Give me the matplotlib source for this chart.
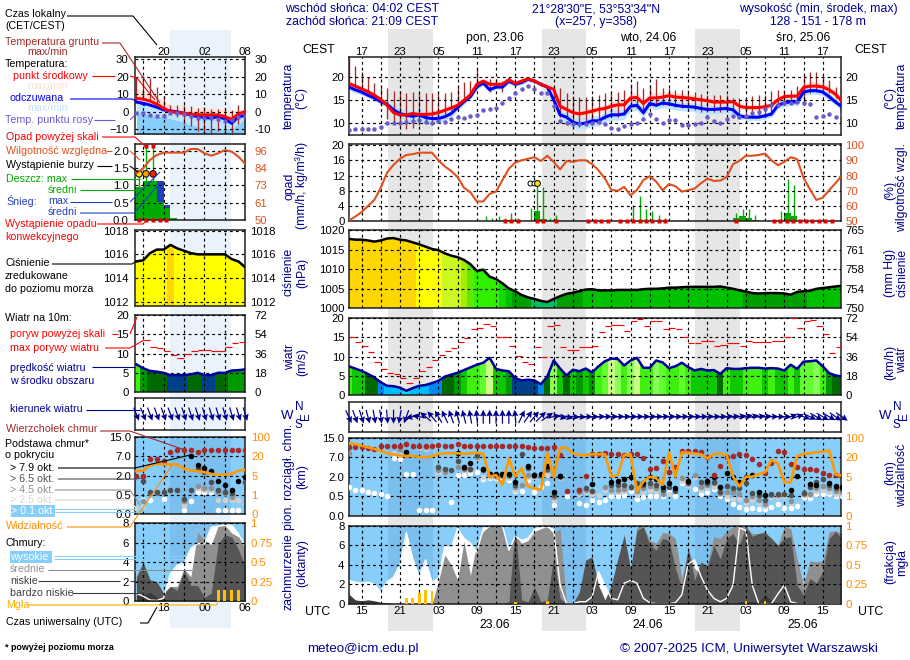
import numpy as np
import matplotlib
matplotlib.use('Agg')
import matplotlib.pyplot as plt
from matplotlib.colors import ListedColormap, BoundaryNorm
from matplotlib.patches import Polygon, Rectangle
from matplotlib.transforms import blended_transform_factory

plt.rcParams['font.family'] = ['Liberation Sans', 'DejaVu Sans']
W, H = 910, 660
FS = 8.8
FS_T = 8.2
FS_L = 7.7
NAVY = '#000090'
RHC = '#E0501E'
ORG = '#FF8C00'
BROWN = '#A52A2A'

# ---------- main panel data (hours since 22.06 13 UTC) ----------
hours = list(range(78))
temp_mid = [18.6,18,17.4,16.8,16,15.1,13.8,12.2,11.7,11.7,12,11.8,11.8,11.9,12.2,12.7,13.2,13.8,14.9,16.1,18.4,19.1,18.4,18.4,18.4,19.4,18.6,19.1,19.6,19.1,18.4,17.8,17.3,13.6,12.9,12.2,11.9,12.2,12.5,12.9,13.1,13.6,13.9,13.9,15.4,15.5,14.2,15.4,15.4,15.6,15.9,15.6,15.5,15.4,15.2,15,14.8,14.5,14.5,14.5,14.6,13.6,13.3,13.3,13.3,13.5,13.8,15,15.7,15.8,15.8,17.7,18,18,17.8,17.2,16.2,14.7]
temp_feels = [17.8,17.2,16.7,16,15.4,14.6,14,12.8,12,11.6,11.4,11.7,11.1,10.9,10.9,11.3,12,13.3,14.6,15.7,17.8,18.7,17.2,17.8,17.8,19.1,18.4,18.8,19.5,19.1,18.4,17.8,15,11.7,11.2,10.1,9.7,9.9,10.4,10.4,11.2,11.7,11.7,11.9,13.6,13.8,12.2,14.2,13.8,14.3,14.1,13.8,13.6,13.5,13.4,13.1,12.9,12.9,13,13.1,12.8,11.5,11.2,11.2,11.2,11.5,11.9,13.8,14.3,14.6,14.5,16.7,17,17,16.7,15.7,14.5,13.5]
temp_dew = [8.4,8.6,8.7,8.7,8.7,9.1,9.9,10,10,10.2,10.4,10.5,10.2,10,10.4,10.2,10.9,11.2,11.1,11.4,11.7,12.8,13,13.3,14.2,15.5,16.4,17.3,18,17.4,16.4,16.4,13.7,10.3,10,9.7,9.6,9.8,9.9,10.1,9.7,8.8,8.7,9.3,9.6,10,10.7,11.8,10.8,9.9,10.6,10.6,9.5,9.5,9.7,10,11.2,10.3,10,10.8,11.5,11.3,11.5,12.2,12.3,12.9,13.8,13.8,14.2,14.2,14.6,14.2,14,11.3,11.5,11.8,11.3,11.8]
temp_top = [24.3,22.5,21.1,19.9,18.6,18,17.5,17,17,16.4,16.6,16.4,16.4,16.4,16.6,16.5,16.6,18,18.8,19.2,22,19.4,19.6,19.6,19.2,19.9,19,19.6,19.9,19.4,18.8,18.3,17.9,17.5,16.5,15.8,15.7,15.7,15.8,16,16.4,16.7,16.7,17.1,18.5,19.1,17.5,18.2,19.6,17.5,17.5,17.2,17.2,17.1,16.7,16.2,16,16,16,16,15.5,15.5,15.5,15.8,16,16,17,17.2,17.1,17.1,18,20.4,21,21,20.1,19.3,17.7,16]
temp_bot = [18.3,17.8,17.2,16.5,15.6,13.6,10.9,9.9,9.1,8.55,8.8,9.5,9.9,10.4,11.3,12,12.8,13.6,14.6,15.8,18,18.2,16.7,17.7,16.7,18.6,18.2,18.6,19.3,18.6,18,17.7,15.7,11.3,10.7,9.5,9.1,9.5,9.9,10.2,10.9,11.3,11.3,11.7,13.5,13.3,12,13.6,13.6,13.8,13.8,13.5,13.3,13.1,12.8,12.4,12.4,12.4,12.4,12.4,12.4,11.3,11.2,11.2,11.2,11.5,11.7,13.5,14.2,14.2,14.2,14.6,16.4,16.8,16.8,16.4,15.3,13.5]
temp_spread = [.5,.5,.5,.5,.5,.5,.6,.7,.8,.8,.8,.8,.9,.9,.8,.7,.6,.5,.5,.5,.5,.4,.4,.4,.4,.4,.4,.4,.4,.4,.4,.4,.5,.7,.7,.7,.8,.8,.7,.7,.8,1,1,1,1,1.1,1,1.1,1.2,1.1,1,.9,.9,.8,.8,.8,.8,.8,.8,.8,.7,.6,.6,.6,.6,.6,.6,.7,.7,.7,.7,.8,1,1,1,.9,.8,.7]
feels_spread = [.6,.6,.6,.6,.6,.6,.7,.9,1.1,1.2,1.3,1.3,1.3,1.2,1.1,.9,.8,.7,.6,.6,.6,.5,.5,.5,.5,.5,.5,.5,.5,.5,.5,.5,.7,1,1.2,1.2,1.2,1.2,1.2,1.1,1.1,1.2,1.2,1.2,1.1,1.1,1.1,1,1,1,1,1,1,1,1,1,1,1,1,1,.9,.7,.7,.7,.7,.7,.7,.8,.8,.8,.8,.8,.8,.8,.8,.8,.8,.8]
rel_hum = [50.4,53,56,60,64,72,82,87,91,93.5,94,95,95,95,90,86,83,79,72,69,63,63,68,69.5,77,84.5,88.5,90,91,92,89.5,93,89,84,89.5,89,90,90,87.5,83.4,78,70.6,70,72.6,67,70.6,77,79.6,76,70.4,74.4,73,69.5,70.4,71.5,75,78,76.5,76.7,79,87.5,89.7,93,93,93.5,94.4,90,86.8,89,92,90.8,78.5,71,64,65.5,70.4,75,80]
rain_hours = [23.4,24.4,25.4,29.4,30.4,32.4,44.4,45.4,46.4,47.4,60.5,61.5,62.5,63.5,68.5,69.5]
rain_mean = [.2,.3,.3,2.6,.6,.3,.2,.2,.2,.2,.8,1.5,.8,.3,2.1,1.4]
rain_max_hours = [20.4,21.4,22.4,23.4,24.4,25.4,26.4,28.4,29.4,30.4,31.4,32.4,44.4,45.4,46.4,47.4,48.4,49.4,59.4,60.5,61.5,62.5,63.5,67.5,68.5,69.5]
rain_max = [.3,1.3,.8,1.3,.8,2.1,.8,3.5,9.3,8.9,.8,1.7,4.4,6.6,3.2,2.6,1.7,.8,.4,2.1,3.2,3.2,1.7,2.6,11,9.5]
conv_hours = [24.4,25.4,26.4,29.4,30.4,32.4,37.4,38.4,39.4,40.4,42.4,43.4,44.4,45.4,46.4,47.4,48.4,49.4,60.4,66.4,67.4,68.4,69.4,70.4,71.4,72.4,73.4,74.4,75.4]
storm_hours = [28.3,28.85,29.4]
storm_level = [10,10,10]
pressure = [1017.8,1017.6,1017.6,1017.4,1017.1,1017.4,1017.9,1018,1017.6,1017.4,1016.9,1016.4,1015.8,1015.2,1014.9,1014.1,1013.5,1013.1,1012.4,1011.3,1009.6,1009.9,1008.1,1007.5,1006.4,1005.1,1004.4,1003.4,1002.8,1002.4,1001.9,1001.6,1002.4,1003.1,1003.7,1004,1004.4,1004.8,1004.9,1004.6,1004.6,1004.6,1004.7,1004.7,1004.7,1004.7,1004.9,1005,1005,1005.1,1005.3,1005.3,1005.4,1005.5,1005.5,1005.5,1005.5,1005.5,1005.6,1005.3,1005,1004.6,1004.3,1003.9,1003.8,1003.9,1003.9,1003.9,1003.8,1003.5,1004.2,1004.4,1004.5,1005,1005.2,1005.4,1005.6,1005.8]
wind = [7.5,6.9,6.3,5.5,4.6,3.3,2.4,2.3,1.9,1.1,1.8,2.4,2.6,3.1,3.7,4.8,5.3,5.8,6.5,7.2,7.9,8.4,9.7,6.8,6.4,6.2,4.4,3.8,4,3.8,2.8,4.8,9,6.9,5.1,6.6,6.2,6.9,5.9,7.5,8.8,9.5,9.4,7.7,9,9.7,7.1,7.1,9,8.5,7,7.5,8.4,7.3,6.4,6.8,6.4,6.5,5.5,7,6.8,6.8,7,7.1,7.1,6.9,7,6.9,6.4,7.9,6.8,8.7,8.8,9,7.5,5.7,5.1,4.8]
gust = [15,13.9,12.9,11.1,8.6,6.9,5.7,5.4,4.4,3.1,4.4,6.3,7.3,9,10.3,11.5,12.3,13.7,14.8,17.1,17.4,18.5,18,15,15,12.9,10.2,8.7,8.2,12.6,10,17.9,18.2,12.6,11.8,11.8,12.6,12.6,12.8,16.3,17.9,18.2,18.2,16.8,19.2,19.7,17.9,19.4,19.4,17.1,17.4,17.1,15.2,13.5,13.5,14,14,12.9,13.1,13.5,13.5,12.9,14,13.7,13.7,13.7,14,14,15.2,20,17.6,19.2,19.5,18.1,15.8,11,12.6]
wind_dir = [335,340,342,345,350,352,355,360,10,20,80,100,130,140,150,155,160,165,165,170,175,180,180,180,180,180,175,205,215,220,225,235,260,285,285,275,275,270,270,268,268,268,268,268,268,268,268,268,268,268,268,268,268,268,268,268,268,268,268,265,265,260,255,258,262,265,268,270,270,250,250,290,295,300,300,300,305,305]

top_hours = [0,1,2,3,4,5,6,7,8,9,10,11,12,13,14,15,16,17,18,19,20,21,22,23,24,25,26,27,28,29,30,31,32,33,34,36,37,38,39,40,41,42,43,44,45,46,47,48,49,50,51,52,53,54,55,56,57,58,59,60,61,62,63,64,65,66,67,68,69,70,71,72,73,74,75,76,77]
top_km = [11,11,11.3,10.9,10.4,11.7,11.7,11.7,11.7,12.4,11.7,11.7,11.6,11.7,12,11.7,11.7,12.3,11.7,11.7,11.7,11.7,11.7,11.7,11.7,11.7,11.7,11.7,11,10.7,10.7,10.9,11,7.9,.9,1,2.2,8.2,8.2,8.6,8.2,8.2,7.9,8.2,8.2,6.9,4.1,4.3,6,3.3,4.6,9.7,9.7,9.7,9.2,7,2.4,4.8,7,7.5,8.2,7.9,6.5,5.2,3,5.4,9.7,9.2,5.2,4.4,4.1,4.1,3.7,3,2.4,2.4,2.4]
b79_hours = [9,17,18,19,21,22,23,24,25,26,28,29,30,31,32,33,38,41,42,43,44,46,47,48,49,50,51,53,56,57,58,59,60,61,62,63,64,65,69,70,72,73,75,76,77]
b79_km = [9.3,8.6,4.6,5.6,3.9,2.8,2.8,2.8,2.6,1.6,4.7,2.5,2.6,4.8,.85,2.3,1.45,1.6,1.7,1.8,2,1.5,2,1.85,1.2,1.5,1.1,1.65,1.7,2,1.2,3,2,1.6,2,2.4,.85,.6,.95,2.3,1.45,1.4,1.5,1.3,1.2]
b65_hours = [14,15,16,17,18,19,20,21,22,23,24,25,26,27,28,29,30,31,32,33,36,37,38,41,42,43,44,45,46,47,48,49,50,51,53,55,56,57,58,59,60,61,62,63,64,65,66,67,68,69,71,72,73,74,75,76,77]
b65_km = [4.6,4.1,3.7,6,4.3,4.1,8,3.7,2.6,2.4,2.4,2.4,1.35,8.2,4.3,2.4,2.4,4.1,.6,2.2,1,1.1,.9,1.4,1.4,1.35,1.2,1.5,1.4,1.55,1.35,1,1.2,.93,1.53,1.62,1.55,1.62,.85,1.27,1.1,1.1,1.5,.72,.6,.4,.65,.65,.65,.6,.72,1.2,1.6,1.8,1.35,1.15,1.05]
b45_hours = [0,8,9,11,12,13,14,15,17,18,19,20,22,23,24,25,26,27,28,29,30,31,32,33,36,37,38,40,41,42,43,44,45,46,47,48,49,52,53,54,55,56,57,58,59,60,61,62,63,64,65,66,67,68,69,71,72,73,74,75,76,77]
b45_km = [8.6,10.4,7.7,11.4,11,11.8,3.7,3.3,4.6,4.1,4,7,2.4,2.3,2.3,2.3,1.2,1.4,2.4,2.3,2.3,3.7,.47,2,.85,1,.9,1.2,1,1,1.05,1.2,.9,1.1,1.3,1.15,.7,1.9,1.5,2.4,1.2,1.35,1.5,.75,.85,.85,.7,.4,.55,.4,.3,.6,.6,.67,.38,.7,.7,1.1,1.3,1.1,.9,.85]
b25_hours = [7,8,11,12,13,14,18,19,20,21,22,23,25,26,27,28,29,31,32,33,36,37,38,39,40,41,42,43,44,45,46,47,48,49,50,52,53,54,55,56,57,58,59,60,61,62,63,64,65,66,67,68,69,71,72,73,74,75,76,77]
b25_km = [8.6,7.9,10.7,10.4,11.8,3.3,3.7,3.7,6.8,2,2,2,1.9,1,1.35,2,2,2.4,.4,1.9,.7,.8,.7,.6,1,.85,.85,.9,1.1,.6,.85,1,.9,.65,.7,1.7,1.35,2,1,1.1,1.2,.7,.55,.43,.43,.32,.4,.32,.26,.47,.47,.5,.32,.6,.6,.9,1,.85,.7,.65]
b01_hours = [0,1,2,3,4,5,6,7,8,9,10,11,12,13,14,15,16,17,18,19,20,21,22,23,24,25,26,27,28,29,30,31,32,33,34,36,37,38,39,40,41,42,43,44,45,46,47,48,49,50,51,52,54,55,56,57,58,59,60,61,62,63,64,65,66,67,68,69,70,71,72,73,74,75,76,77]
b01_km = [1.2,1,1,.8,.75,.65,.55,6.8,6.6,2.8,2.6,.14,.14,.15,3.3,3.3,.35,2.4,2.4,3,3.3,1.8,1.9,1.9,2,1.75,.9,.9,1.75,.85,1.2,1.5,.28,2,.5,.33,.28,.4,.35,.4,.5,.55,.6,.9,.43,.47,.55,.55,.5,.85,.5,1.5,1.05,.7,.85,1.05,.5,.43,.29,.23,.17,.19,.17,.17,.23,.29,.19,.2,.26,.47,.45,.7,.7,.65,.55,.5]
visibility = [77,74,67,61,54,46,36,32,27,25,25,21,20,23,34,36,36,36,34,36,38,34,5,6.3,3.3,19,5,11.5,3,2.6,2.3,36,5,59,59,36,29,29,32,32,32,5,6.3,29,32,1.95,4,5,4.7,3.3,40,5,40,38,35,32,19,32,35,29,5,3,5,5,7,8.4,18,15,3.85,3.85,23,34,36,40,43,47,6.8,5.8]
cl_high = [2.4,2.2,2.1,2.2,2,1.2,2.25,2.7,4,7.3,4.6,2.8,4.5,2.2,2.6,5.9,5.7,7.7,6.7,6.2,5.3,7.7,8,8,8,5.5,6.9,6.5,6.7,7.6,7.9,7.9,7.6,1.9,0,0,.2,.2,.7,3.3,1.9,.55,.4,2.1,2.4,2.1,.55,.1,0,0,0,.1,.9,4.1,4.5,2.8,1.4,.55,.2,.55,1.9,7.8,7.5,1.9,0,0,0,1,1.9,.2,0,0,0,0,0,0,0,0]
cl_mid = [0,0,0,0,0,0,0,0,0,0,0,0,0,0,2.25,5,4,2.4,6.4,2.9,6.2,7.4,8,8,8,5.5,7,6.2,6.5,7.4,7.7,7.9,7.2,7.7,0,0,.9,4,4.8,1,.2,.3,3.3,7.2,3.3,7.9,8,6.5,6.2,7.3,7.2,6.7,2.6,5.7,3.6,3.1,4.1,6.9,6.7,7.4,7.9,8,7.9,7.2,7.2,7.4,6.4,6,7.9,7.7,4.6,1.9,4.4,4.3,4.4,7.4,7.5,7.2]
cl_low = [0,0,0,0,0,0,0,0,0,0,0,0,0,0,0,0,0,0,0,0,0,0,0,0,0,.2,7.9,.4,.2,1.7,.2,.4,4.8,.55,0,0,1.2,4.5,4.8,1.9,.4,1.9,4.6,7,3.6,7.5,7.9,6,5.5,6.7,6.5,3.6,1.6,5.7,2.4,4.3,3.8,6,4.6,6.7,7.2,6,7.9,6.9,7.2,7.3,6.7,6,6.7,6.9,1.9,.9,2.6,2.1,3.3,6.7,7.4,6.7]
cl_vlow = [1,.4,.3,.4,.3,.15,.1,0,0,0,0,0,0,0,0,0,0,0,0,0,0,0,0,0,0,0,0,0,0,0,0,0,0,0,0,0,0,0,0,0,0,0,0,0,0,0,0,0,0,0,0,0,0,0,0,0,0,0,0,0,0,.2,.3,.2,.2,.9,.3,0,0,0,0,0,0,0,0,0,0,0]
fog_hours = [9,10,11,12,13,26,31,62,65]
fog_frac = [.07,.07,.14,.18,.16,.02,.04,.03,.03]
night_start = [6.13,30.13,54.13]
night_end = [13.1,37.1,61.1]
cest_labels = ['17','23','05','11','17','23','05','11','17','23','05','11','17']
utc_labels = ['15','21','03','09','15','21','03','09','15','21','03','09','15']

# ---------- small (analysis) panel data, hours UTC from 22.06 00 ----------
s_hours = list(range(14,31))
s_temp = [7.5,7.1,6,4.2,1.9,0,-.6,-1,-1.5,-1.9,-1.9,-1.9,-1.9,-2.9,-4.4,-1.3,0]
s_feels = [5.4,4.8,3.7,2.5,1,.4,-.2,-1,-1.9,-2.9,-3.3,-3.8,-2.9,-4.2,-6.7,-2.9,-2.3]
s_temp_hi = [13.5,12,10,8.5,5.8,4,3,2.5,2,2,2,2,2,1,.5,1,1]
s_feels_lo = [-.3,-1,-2,-2.7,-3,-4,-5,-6,-7.7,-8.5,-9.5,-9.6,-9.6,-9.6,-9.6,-7,-3.8]
s_dew = [-1,-1,-1.9,-2.5,-2.5,-.6,-1,-1.3,-2.5,-3.5,-3.8,-3.8,-4.4,-5.2,-4.8,-2.9,-2.5]
s_top = [20,20.5,19,13.8,9,4,4,3.5,3,2,2.5,1.5,1.5,2,1,3.5,3]
s_bot = [6,7,5.5,3,1,-1,-3,-7,-8,-11,-12,-12,-11,-12,-12.5,-7,-2]
s_rh = [81,84.3,89.8,93.1,94.7,94.7,94.7,94.7,97.1,97.1,94.2,92.7,94.2,96.4,95.3,92,87.2]
s_rain_hours = [13.5,14.5,15.5,16.5,17.5,18.5,19.5]
s_rain = [.95,.95,1.12,1.12,.52,.36,.05]
s_snow_top = [0,0,0,0,1.11,.44,0]
s_rmax_hours = [14.4,15.4,16.45]
s_rmax = [1.33,2.19,2.19]
s_storm = [1.33,1.33,1.33]
s_over_hours = [15.4,16.45]
s_over = [2.13,2.13]
s_conv_hours = [14.4,15.4,16.45,17.4,18.4]
s_pressure = [1015.4,1015.5,1016.1,1016.4,1016.4,1016.8,1016.5,1016.3,1016.1,1016,1016,1016,1016,1016,1015.6,1015.4,1014.9]
s_wind = [7.2,6.2,5.5,5.3,5,4.4,4.4,4.4,4.6,5,4.4,4.4,5,5,5.6,5.7,5.9]
s_gust = [21,13.6,11.7,11.4,10.6,9.6,8.9,9.8,10.6,10.9,10.9,10.6,10.6,11.7,12.7,13]
s_dir = [338,338,339,340,340,340,341,342,342,342,343,343,343,343,343,343,343]
s_top_km = [2,2,6.4,6.2,5.9,8.7,9.7,9.7,9.7,8.7,9.7,9.7,9.7,9.7,9.7,9.7,9.7]
s79_hours = [22,23,24,25,26,27,28,29,30]
s79_km = [7,4.8,3.9,3.1,1.55,1.25,.9,1.55,1.9]
s65_hours = [15,16,17,18,19,20,21,22,23,24,25,26,27,28,30]
s65_km = [1.55,.7,.7,.7,.9,.9,.4,.9,3.7,2.9,1.5,.9,.7,.6,1.5]
s45_hours = [15,16,17,18,19,20,21,22,23,24,25,26,27,28]
s45_km = [.35,.6,.6,.7,.85,.85,.33,.9,1.15,1,1.05,.7,.6,.45]
s25_hours = [14,15,19,20,21,22,23,24,25,26,27,28,29]
s25_km = [.15,.2,.9,.9,.24,.85,1,.85,.9,.36,.36,.36,.36]
s01_hours = [15,16,18,21,22,23,24,25,26,27,28,29]
s01_km = [.36,.36,.38,.1,.33,.7,.7,.7,.1,.1,.1,.1]
s_vis = [8.4,8.9,12.9,14.2,13.7,13.7,13.7,10.3,8.9,8.4,7.6,6.3,5.5,5.8,6.3,8.9,9.5]
s_high = [.8,.5,.1,.05,.3,2.8,3.7,3.9,5.4,5.9,5.9,7.6,7.7,7.8,7.8,6.9,5.6]
s_mid = [0,0,0,0,.8,1.5,1.5,3.3,2.5,7.1,6.3,5.8,7.7,7.8,7,6.6,5.8]
s_low = [2.5,4,2.2,2,.8,1.5,1.1,3.2,1.6,1.6,.4,.8,5.9,6.8,6.6,5.3,3.5]
s_vlow = [.6,.6,.9,.4,.1,0,0,0,0,0,0,0,0,0,0,0,0]
s_fog_hours = [26,27,28,29]
s_fog = [.14,.14,.14,.14]
s_night = [19.0,27.9]

# ---------- scales ----------
km_scale = [0,.5,2,7,15]
vis_scale = [0,1,5,20,100]
def km_lev(v): return np.interp(v, km_scale, [0,1,2,3,4])
def vis_lev(v): return np.interp(v, vis_scale, [0,1,2,3,4])

p_bounds = [1000,1002.5,1004.5,1006,1007.5,1009,1010.5,1011.7,1012.7,1014.4,1016.6,1021]
p_cmap = ListedColormap(['#00C060','#009E00','#00C000','#10D800','#30F000','#30F000','#60E800','#A0F000','#CCFA20','#FFFF00','#FFD700'])
p_norm = BoundaryNorm(p_bounds, p_cmap.N)
w_bounds = [0,1.5,2.8,3.8,4.5,5.6,6.3,7,8,9,9.5,25]
w_cmap = ListedColormap(['#00DDFF','#00BBFF','#0088F0','#00408A','#006A00','#009900','#10C800','#40F010','#60FF30','#88FF55','#CCFF88'])
w_norm = BoundaryNorm(w_bounds, w_cmap.N)

fig = plt.figure(figsize=(W/100, H/100), dpi=100, facecolor='white')

def px_axes(l, t, r, b):
    a = fig.add_axes([l/W, 1-b/H, (r-l)/W, (b-t)/H], facecolor='none')
    for s in a.spines.values():
        s.set_linewidth(1.1); s.set_color('#202020')
    return a

grid_kw = dict(color='black', lw=0.85, linestyle=(0,(2.4,2.6)))

def setup(a, xlim, major, minor, yticks, ylim, ylabels=None, rpad=3, lpad=3):
    a.set_xlim(*xlim); a.set_ylim(*ylim)
    a.set_xticks(major); a.set_xticks(minor, minor=True)
    a.set_yticks(yticks)
    if ylabels is not None:
        a.set_yticklabels(ylabels)
    a.set_xticklabels([])
    a.tick_params(which='both', length=0, labelsize=FS_T, pad=lpad, colors='black')
    a.grid(True, which='both', axis='x', **grid_kw)
    a.grid(True, which='major', axis='y', **grid_kw)
    a.set_axisbelow(False)

def right(a, ticks, labels, ylim=None, color='black', pad=3):
    r = a.twinx()
    r.set_ylim(*(ylim if ylim else a.get_ylim()))
    r.set_yticks(ticks); r.set_yticklabels(labels)
    r.tick_params(length=0, labelsize=FS_T, pad=pad, colors=color)
    for s in r.spines.values():
        s.set_visible(False)
    return r

def colored_area(a, x, y, ybase, cmap, norm, ytop):
    x = np.asarray(x, float); y = np.asarray(y, float)
    edges = np.append(x-.5, x[-1]+.5)
    mesh = a.pcolormesh(edges, [ybase, ytop], y[None, :], cmap=cmap, norm=norm, zorder=1, linewidth=0)
    poly = Polygon(np.column_stack([np.r_[x[0], x, x[-1]], np.r_[ybase, y, ybase]]), closed=True,
                   facecolor='none', edgecolor='none', transform=a.transData)
    a.add_patch(poly)
    mesh.set_clip_path(poly)

def arrows(a, x, d, ln):
    d = np.radians(np.asarray(d, float))
    a.quiver(x, np.full(len(x), .5), -ln*np.sin(d), -ln*np.cos(d), units='dots', scale_units='dots',
             scale=1, angles='uv', pivot='mid', width=1.2, headwidth=5.5, headlength=5.5, headaxislength=4.8,
             color='#00008B', zorder=3, clip_on=False)

def cloud_dots(a, hh, km, col, ms=4.0):
    a.plot(hh, km_lev(km), ls='none', marker='o', ms=ms, mfc=col, mec=col, mew=0, zorder=3, clip_on=True)

# ====== main panels ======
XM = (0, 76.85); M6 = list(range(2, 77, 6)); M3 = list(range(5, 77, 6))
MX = 348.7; MR = 841
a_t = px_axes(MX, 57.3, MR, 135)
a_p = px_axes(MX, 144.3, MR, 221.3)
a_c = px_axes(MX, 230.3, MR, 308.3)
a_w = px_axes(MX, 318.3, MR, 395)
a_d = px_axes(MX, 401.7, MR, 431.7)
a_b = px_axes(MX, 437.7, MR, 515.7)
a_k = px_axes(MX, 525.7, MR, 603.7)

tr = blended_transform_factory(a_t.transData, fig.transFigure)
for s, e in zip(night_start, night_end):
    fig.add_artist(Rectangle((s, 1-630.7/H), e-s, (630.7-28.7)/H, transform=tr, facecolor='#E6E6E6', edgecolor='none', zorder=-5))

setup(a_t, XM, M6, M3, [10,15,20], (7.3,24.3))
a_t.fill_between(hours, np.array(temp_mid)-temp_spread, np.array(temp_mid)+temp_spread, color='#FFDEDC', lw=0, zorder=1)
a_t.fill_between(hours, np.array(temp_feels)-feels_spread, np.array(temp_feels)+feels_spread, color='#BDE5FF', lw=0, zorder=1.1)
a_t.vlines(hours, temp_bot, temp_top, color=BROWN, lw=0.95, zorder=2)
a_t.plot(hours, temp_feels, color='#0000FF', lw=2.2, zorder=3)
a_t.plot(hours, temp_mid, color='#FF0000', lw=2.2, zorder=3.1)
a_t.plot(hours, temp_dew, ls='none', marker='o', ms=3.2, mfc='#6A5ACD', mec='none', zorder=3.2)
right(a_t, [10,15,20], ['10','15','20'])
a_t.xaxis.set_ticks_position('top')
a_t.set_xticks(M6); a_t.set_xticklabels(cest_labels)
a_t.tick_params(axis='x', which='major', pad=0.5, labelsize=FS_T, top=True, length=0)

setup(a_p, XM, M6, M3, [0,4,8,12,16,20], (0,20.2))
a_p.bar(rain_hours, rain_mean, width=1, color='#00AA00', zorder=1.5)
a_p.vlines(rain_max_hours, 0, rain_max, color='#00B000', lw=1, zorder=1.6)
a_p.plot(conv_hours, np.zeros(len(conv_hours))+.08, ls='none', marker='s', ms=2.3, mfc='#E00000', mec='none', zorder=3, clip_on=False)
a_p.plot(storm_hours[:2], storm_level[:2], ls='none', marker='o', ms=3.6, mfc='white', mec='black', mew=.7, zorder=4)
a_p.plot(storm_hours[2:], storm_level[2:], ls='none', marker='o', ms=4.2, mfc='#FFE000', mec='black', mew=.7, zorder=4)
r_p = right(a_p, [50,60,70,80,90,100], ['50','60','70','80','90','100'], ylim=(50,100.5), color=RHC)
r_p.plot(hours, rel_hum, color=RHC, lw=1.5, zorder=3)

setup(a_c, XM, M6, M3, [1000,1005,1010,1015,1020], (1000,1020))
colored_area(a_c, hours, pressure, 1000, p_cmap, p_norm, 1020)
a_c.plot(hours, pressure, color='black', lw=1.8, zorder=3)
right(a_c, [1000,1005,1010,1015,1020], ['750','754','758','761','765'])

setup(a_w, XM, M6, M3, [0,5,10,15,20], (0,20))
colored_area(a_w, hours, wind, 0, w_cmap, w_norm, 20)
a_w.plot(hours, wind, color='#00009B', lw=1.8, zorder=3)
g_h = np.array(hours[:len(gust)], float)
a_w.hlines(gust, g_h+.02, g_h+.98, color='#FF0000', lw=.85, zorder=3)
right(a_w, [0,5,10,15,20], ['0','18','36','54','72'])

setup(a_d, XM, M6, M3, [], (0,1))
arrows(a_d, hours, wind_dir, 14)

setup(a_b, XM, M6, M3, [0,1,2,3,4], (0,4), ['0.0','0.5','2.0','7.0','15.0'])
a_b.set_facecolor('#87CEFA')
for s, e in zip(night_start, night_end):
    a_b.axvspan(s, e, color='#3060A0', alpha=.13, lw=0, zorder=.5)
cloud_dots(a_b, b01_hours, b01_km, 'white')
cloud_dots(a_b, b25_hours, b25_km, '#D0D0D0')
cloud_dots(a_b, b45_hours, b45_km, '#909090')
cloud_dots(a_b, b65_hours, b65_km, '#505050')
cloud_dots(a_b, b79_hours, b79_km, 'black')
cloud_dots(a_b, top_hours, top_km, BROWN)
a_b.plot(hours, vis_lev(visibility), color='#FF9900', lw=1.9, zorder=3.5)
right(a_b, [0,1,2,3,4], ['0','1','5','20','100'], color=ORG)

setup(a_k, XM, M6, M3, [0,2,4,6,8], (0,8))
a_k.set_facecolor('#87CEFA')
for s, e in zip(night_start, night_end):
    a_k.axvspan(s, e, color='#3060A0', alpha=.13, lw=0, zorder=.5)
a_k.fill_between(hours, 0, cl_high, color='white', lw=0, zorder=1)
a_k.fill_between(hours, 0, cl_mid, color='#909090', lw=0, zorder=1.1)
a_k.fill_between(hours, 0, cl_low, color='#555555', lw=0, zorder=1.2)
a_k.fill_between(hours, 0, cl_vlow, color='#3A3A3A', lw=0, zorder=1.3)
a_k.plot(hours, cl_high, color='white', lw=1, zorder=1.5)
a_k.set_xticks(M6); a_k.set_xticklabels(utc_labels)
a_k.tick_params(axis='x', which='major', pad=1.5, labelsize=FS_T, length=0)
r_k = right(a_k, [0,.25,.5,.75,1], ['0','0.25','0.5','0.75','1'], ylim=(0,1), color=ORG)
r_k.bar(fog_hours, fog_frac, width=.42, color='#FFC000', zorder=3)

# ====== small panels ======
XS = (13.8, 30.0); S6 = [18,24,30]; S3 = [15,21,27]
SL, SR = 135, 245.3
b_t = px_axes(SL, 57.3, SR, 134.3)
b_p = px_axes(SL, 144, SR, 220)
b_c = px_axes(SL, 230, SR, 306)
b_w = px_axes(SL, 315.3, SR, 392)
b_d = px_axes(SL, 398.3, SR, 430)
b_b = px_axes(SL, 436.7, SR, 514)
b_k = px_axes(SL, 523.3, SR, 601)

tr2 = blended_transform_factory(b_t.transData, fig.transFigure)
fig.add_artist(Rectangle((s_night[0], 1-628/H), s_night[1]-s_night[0], (628-30)/H, transform=tr2, facecolor='#EAF2FC', edgecolor='none', zorder=-5))

setup(b_t, XS, S6, S3, [-10,0,10,20,30], (-13,31), lpad=4.5)
b_t.fill_between(s_hours, s_temp, s_temp_hi, color='#FFE4DC', lw=0, zorder=1)
b_t.fill_between(s_hours, -13, s_feels_lo, color='#87CEFA', lw=0, zorder=1)
b_t.fill_between(s_hours, s_feels_lo, s_feels, color='#BDE5FF', lw=0, zorder=1)
b_t.vlines(s_hours, s_bot, s_top, color=BROWN, lw=.95, zorder=2)
b_t.plot(s_hours, s_feels, color='#0000FF', lw=2.2, zorder=3)
b_t.plot(s_hours, s_temp, color='#FF0000', lw=2.2, zorder=3.1)
b_t.plot(s_hours, s_dew, ls='none', marker='s', ms=2.6, mfc='#6A5ACD', mec='none', zorder=3.2)
right(b_t, [-10,0,10,20,30], ['-10','0','10','20','30'], pad=6.5)
b_t.xaxis.set_ticks_position('top')
b_t.set_xticks(S6); b_t.set_xticklabels(['20','02','08'])
b_t.tick_params(axis='x', which='major', pad=0.5, labelsize=FS_T, length=0)

setup(b_p, XS, S6, S3, [0,.5,1,1.5,2], (0,2.19), ['0.0','0.5','1.0','1.5','2.0'], lpad=4.5)
b_p.bar(s_rain_hours, s_snow_top, width=1, color='#2040C0', zorder=1.4)
b_p.bar(s_rain_hours, s_rain, width=1, color='#00AA00', zorder=1.5)
b_p.vlines(s_rmax_hours, 0, s_rmax, color='#00B000', lw=1, zorder=1.6)
b_p.scatter(s_rmax_hours, s_storm, s=22, c=['#FFE000','#FFA000','#FF2000'], edgecolors='black', linewidths=.7, zorder=4)
b_p.plot(s_over_hours, s_over, ls='none', marker='s', ms=2.6, mfc='#E00000', mec='none', zorder=4, clip_on=False)
b_p.plot(s_conv_hours, np.zeros(len(s_conv_hours))+.01, ls='none', marker='s', ms=2.3, mfc='#E00000', mec='none', zorder=3, clip_on=False)
r_bp = right(b_p, [50,61.5,73,84.5,96], ['50','61','73','84','96'], ylim=(50,100.4), color=RHC, pad=6.5)
r_bp.plot(s_hours, s_rh, color=RHC, lw=1.5, zorder=3)

setup(b_c, XS, S6, S3, [1012,1014,1016,1018], (1011.65,1018.05), lpad=4.5)
colored_area(b_c, s_hours, s_pressure, 1011.65, p_cmap, p_norm, 1018.05)
b_c.plot(s_hours, s_pressure, color='black', lw=1.8, zorder=3)
right(b_c, [1012,1014,1016,1018], ['1012','1014','1016','1018'], pad=3.5)

setup(b_w, XS, S6, S3, [0,5,10,15,20], (0,20), lpad=4.5)
colored_area(b_w, s_hours, s_wind, 0, w_cmap, w_norm, 20)
b_w.plot(s_hours, s_wind, color='#00009B', lw=1.8, zorder=3)
sg = np.array(s_hours[:len(s_gust)], float)
b_w.hlines(s_gust, sg+.02, sg+.98, color='#FF0000', lw=.85, zorder=3)
right(b_w, [0,5,10,15,20], ['0','18','36','54','72'], pad=6.5)

setup(b_d, XS, S6, S3, [], (0,1))
arrows(b_d, s_hours, s_dir, 14)

setup(b_b, XS, S6, S3, [0,1,2,3,4], (0,4.02), ['0.0','0.5','2.0','7.0','15.0'], lpad=2.5)
b_b.set_facecolor('#87CEFA')
b_b.axvspan(s_night[0], s_night[1], color='#3060A0', alpha=.13, lw=0, zorder=.5)
cloud_dots(b_b, s01_hours, s01_km, 'white')
cloud_dots(b_b, s25_hours, s25_km, '#D0D0D0')
cloud_dots(b_b, s45_hours, s45_km, '#909090')
cloud_dots(b_b, s65_hours, s65_km, '#505050')
cloud_dots(b_b, s79_hours, s79_km, 'black')
cloud_dots(b_b, s_hours, s_top_km, BROWN)
b_b.plot(s_hours, vis_lev(s_vis), color='#FF9900', lw=1.9, zorder=3.5)
right(b_b, [0,1,2,3,4], ['0','1','5','20','100'], ylim=(0,4.02), color=ORG, pad=4.5)

setup(b_k, XS, S6, S3, [0,2,4,6,8], (0,8), lpad=4.5)
b_k.set_facecolor('#87CEFA')
b_k.axvspan(s_night[0], s_night[1], color='#3060A0', alpha=.13, lw=0, zorder=.5)
b_k.fill_between(s_hours, 0, s_high, color='white', lw=0, zorder=1)
b_k.fill_between(s_hours, 0, s_mid, color='#909090', lw=0, zorder=1.1)
b_k.fill_between(s_hours, 0, s_low, color='#555555', lw=0, zorder=1.2)
b_k.fill_between(s_hours, 0, s_vlow, color='#3A3A3A', lw=0, zorder=1.3)
b_k.plot(s_hours, s_high, color='white', lw=1, zorder=1.5)
b_k.set_xticks(S6); b_k.set_xticklabels(['18','00','06'])
b_k.tick_params(axis='x', which='major', pad=1.5, labelsize=FS_T, length=0)
r_bk = right(b_k, [0,.25,.5,.75,1], ['0','0.25','0.5','0.75','1'], ylim=(0,1), color=ORG, pad=3.5)
r_bk.bar(s_fog_hours, s_fog, width=.45, color='#FFC000', zorder=3)

# ====== overlay for text and leader lines (pixel coordinates) ======
ov = fig.add_axes([0,0,1,1], facecolor='none', zorder=20)
ov.set_xlim(0,W); ov.set_ylim(H,0); ov.axis('off')

def T(x, y, s, c='black', ha='left', rot=0, fs=FS, **k):
    ov.text(x, y, s, color=c, ha=ha, va='center', rotation=rot, fontsize=fs, **k)
def L(pts, c='black', lw=.8):
    xs, ys = zip(*pts)
    ov.plot(xs, ys, color=c, lw=lw, solid_capstyle='butt')

# header
T(362,9,'wschód słońca: 04:02 CEST',NAVY,'center')
T(362,22,'zachód słońca: 21:09 CEST',NAVY,'center')
T(596,9,'21°28\'30"E, 53°53\'34"N',NAVY,'center')
T(596,22,'(x=257, y=358)',NAVY,'center')
T(818,9,'wysokość (min, środek, max)',NAVY,'center')
T(818,22,'128 - 151 - 178 m',NAVY,'center')
for x, s in zip([495,648,803], ['pon, 23.06','wto, 24.06','śro, 25.06']):
    T(x,38,s,'black','center')
for x, s in zip([495,648,803], ['23.06','24.06','25.06']):
    T(x,625,s,'black','center')
T(319,50,'CEST','black','center'); T(871,50,'CEST','black','center')
T(318,612,'UTC','black','center'); T(871,612,'UTC','black','center')

# axis titles
for x,y,s in [(289,96,'temperatura'),(301,98,'(°C)'),(290,186,'opad'),(302,185,'(mm/h, kg/m³/h)'),
              (289,272,'ciśnienie'),(302,273,'(hPa)'),(290,357,'wiatr'),(302,362,'(m/s)'),
              (289,477,'pion. rozciągł. chm.'),(302,477,'(km)'),(289,572,'zachmurzenie'),(302,563,'(oktanty)'),
              (890,98,'(°C)'),(902,96,'temperatura'),(890,190,'(%)'),(902,187,'wilgotność wzgl.'),
              (890,273,'(mm Hg)'),(902,273,'ciśnienie'),(890,362,'(km/h)'),(902,360,'wiatr'),
              (890,473,'(km)'),(902,475,'widzialność'),(890,562,'(frakcja)'),(902,563,'mgła')]:
    ov.text(x,y,s,color=NAVY,rotation=90,ha='center',va='center',fontsize=FS)
for wx in (287, 885):
    T(wx,416,'W',NAVY,'center',fs=9.5)
    T(wx+12,406.5,'N',NAVY,'center',fs=8.5)
    T(wx+11,424.5,'S',NAVY,'center',fs=8.5)
    ov.text(wx+18.5,416,'E',color=NAVY,rotation=90,ha='center',va='center',fontsize=8.5)

# footer
T(363,649,'meteo@icm.edu.pl',NAVY,'center',fs=9.6)
T(749,649,'© 2007-2025 ICM, Uniwersytet Warszawski',NAVY,'center',fs=9.6)
T(5,648,'* powyżej poziomu morza','black',fs=6.4,fontweight='bold')

# legend texts
PINK='#FFE0D8'; LBL='#BDE5FF'; SL_C='#6A5ACD'; GR='#00AA00'; BL='#2040C0'
for x,y,s,c in [
 (5,14,'Czas lokalny','black'),(5,26,'(CET/CEST)','black'),
 (5,42,'Temperatura gruntu',BROWN),(27,52,'max/min',BROWN),
 (5,64,'Temperatura:','black'),(13,76,'punkt środkowy','#FF0000'),(27,86,'max/min',PINK),
 (10,98,'odczuwana','#0000FF'),(27,108,'max/min',LBL),(5,120,'Temp. punktu rosy',SL_C),
 (6,137,'Opad powyżej skali','#FF0000'),(6,151,'Wilgotność względna',RHC),(6,165,'Wystąpienie burzy','black'),
 (6,179,'Deszcz: max',GR),(48,190,'średni',GR),(6,201,'Śnieg:',BL),(48,201,'max',BL),(48,212,'średni',BL),
 (5,224,'Wystąpienie opadu','#FF0000'),(5,237,'konwekcyjnego','#FF0000'),
 (5,263,'Ciśnienie','black'),(5,276,'zredukowane','black'),(5,289,'do poziomu morza','black'),
 (5,318,'Wiatr na 10m:','black'),(10,334,'poryw powyżej skali','#FF0000'),(10,348,'max porywy wiatru','#FF0000'),
 (10,368,'prędkość wiatru',NAVY),(10,381,'w środku obszaru',NAVY),(10,409,'kierunek wiatru',NAVY),
 (6,429,'Wierzchołek chmur',BROWN),(5,444,'Podstawa chmur*','black'),(5,455,'o pokryciu','black'),
 (10,468,'> 7.9 okt.','black'),(10,479,'> 6.5 okt.','#505050'),(10,490,'> 4.5 okt.','#909090'),(10,500,'> 2.5 okt.','#D8D8D0'),
 (6,526,'Widzialność',ORG),(6,543,'Chmury:','black'),(10,569,'średnie','#909090'),(10,581,'niskie','#404040'),
 (10,593,'bardzo niskie','#404040'),(6,605,'Mgła','#FFB000'),(6,622,'Czas uniwersalny (UTC)','black')]:
    T(x,y,s,c,fs=FS_L)
ov.add_patch(Rectangle((11,505),44,12,facecolor='#87CEFA',edgecolor='none'))
T(11,511,'> 0.1 okt.','white',fs=FS_L)
ov.add_patch(Rectangle((10,551),42,12,facecolor='#87CEFA',edgecolor='none'))
T(10,556.5,'wysokie','white',fs=FS_L)

# leader lines
L([(67,16),(133,16),(157,45)])
L([(102,43),(120,43),(160,103)],BROWN)
L([(92,76),(115,76)],'#FF0000'); L([(130,76),(137,78),(155,100)],'#FF0000')
L([(70,99),(132,99),(145,106)],'#0000FF')
L([(94,120),(115,120)],SL_C); L([(130,120),(137,113)],SL_C)
L([(102,137),(135,137),(146,147)],'#FF0000')
L([(106,151),(112,151)],RHC); L([(130,151),(140,160)],RHC)
L([(97,166),(112,166)]); L([(130,166),(138,172)])
L([(71,179),(140,179)],GR); L([(80,190),(143,190)],GR)
L([(70,202),(112,202)],BL); L([(130,202),(160,172)],BL)
L([(80,213),(134,213),(160,183)],BL)
L([(97,224),(143,224),(147,220)],'#FF0000')
L([(52,264),(132,264),(135,262)])
L([(112,334),(118,334)],'#FF0000'); L([(130,334),(137,317)],'#FF0000')
L([(105,348),(130,348),(144,340)],'#FF0000')
L([(92,367),(135,367)],NAVY); L([(86,410),(140,410)],NAVY)
L([(100,431),(130,431),(185,450)],BROWN)
L([(58,468),(135,468),(190,455)])
L([(58,479),(135,479),(142,478)],'#505050')
L([(55,490),(130,490),(140,505)],'#909090')
L([(55,500),(130,500),(137,510)],'#D8D8D0')
L([(55,509),(135,509)],'#87CEFA'); L([(55,512),(135,512)],'#87CEFA')
L([(67,527),(130,527),(172,465)],ORG)
L([(54,555.5),(185,555.5)],'#87CEFA'); L([(54,558.5),(185,558.5)],'#87CEFA')
L([(48,570),(192,570)],'#909090')
L([(38,581),(120,581)],'#404040'); L([(130,581),(145,581)],'#404040')
L([(72,593),(145,593)],'#404040')
L([(27,605),(217,605),(218,600)],'#FFB000')
L([(140,623),(148,623),(157,607)])

fig.savefig('out.png', dpi=100, facecolor='white')
